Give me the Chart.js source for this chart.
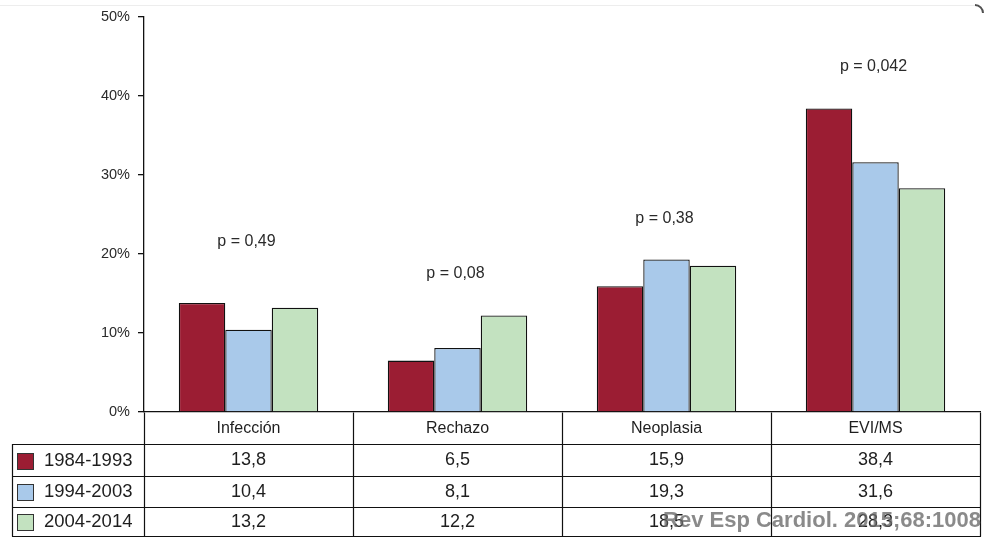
<!DOCTYPE html>
<html>
<head>
<meta charset="utf-8">
<script src="https://cdn.jsdelivr.net/npm/chart.js@4/dist/chart.umd.min.js"></script>
<style>
  html, body { margin: 0; padding: 0; background: #ffffff; }
  #wrap { width: 985px; height: 537px; position: relative; }
</style>
</head>
<body>
<div id="wrap"><canvas id="c" width="985" height="537"></canvas></div>
<script>
// Causes of death by transplant era (%)
const categories = ['Infección', 'Rechazo', 'Neoplasia', 'EVI/MS'];
const periods = ['1984-1993', '1994-2003', '2004-2014'];
const values1984 = [13.8, 6.5, 15.9, 38.4];
const values1994 = [10.4, 8.1, 19.3, 31.6];
const values2004 = [13.2, 12.2, 18.5, 28.3];
const pValues = ['p = 0,49', 'p = 0,08', 'p = 0,38', 'p = 0,042'];
const yTickValues = [0, 10, 20, 30, 40, 50];
const sourceNote = 'Rev Esp Cardiol. 2015;68:1008';

const seriesValues = [values1984, values1994, values2004];
const seriesColors = ['#9b1d33', '#a9c9ea', '#c3e2c0'];
const FONT = '"Liberation Sans", Arial, Helvetica, sans-serif';
const INK = '#1e1e1e';

const fmt = v => v.toFixed(1).replace('.', ',');

// Table rows under the plot area (y edges of each row)
const tableRows = { edges: [444, 476, 507, 536], left: 12 };

// p-value labels above each group, placed at a height in axis units
const pLabelLevels = [21.6, 17.5, 24.4, 43.7];

const tablePlugin = {
  id: 'dataTable',
  afterDraw(chart) {
    const ctx = chart.ctx;
    const x = chart.scales.x;
    const y = chart.scales.y;
    const area = chart.chartArea;
    const right = area.right;
    const n = categories.length;
    const step = (area.right - area.left) / n;

    ctx.save();
    // faint page frame at the top
    ctx.strokeStyle = 'rgba(0,0,0,0.07)';
    ctx.lineWidth = 1;
    ctx.beginPath();
    ctx.moveTo(0, 5.5); ctx.lineTo(976, 5.5);
    ctx.stroke();
    ctx.strokeStyle = 'rgba(50,50,50,0.85)';
    ctx.lineWidth = 2;
    ctx.beginPath();
    ctx.arc(975, 13, 8, -Math.PI / 2, 0);
    ctx.stroke();

    // p-values
    ctx.fillStyle = '#2a2a2a';
    ctx.font = '16px ' + FONT;
    ctx.textAlign = 'center';
    ctx.textBaseline = 'middle';
    const mid = chart.getDatasetMeta(1).data;
    pValues.forEach((p, i) => {
      ctx.fillText(p, mid[i].x - 2, y.getPixelForValue(pLabelLevels[i]));
    });

    // grid of the table
    ctx.strokeStyle = '#111111';
    ctx.lineWidth = 1.2;
    ctx.beginPath();
    const bottomAxis = Math.round(area.bottom) + 0.5;
    const last = tableRows.edges[tableRows.edges.length - 1];
    for (let i = 0; i <= n; i++) {
      const gx = Math.round(area.left + step * i) + 0.5;
      ctx.moveTo(gx, bottomAxis);
      ctx.lineTo(gx, last + 0.5);
    }
    ctx.moveTo(tableRows.left + 0.5, tableRows.edges[0]);
    ctx.lineTo(tableRows.left + 0.5, last + 0.5);
    tableRows.edges.forEach(ry => {
      ctx.moveTo(tableRows.left, ry + 0.5);
      ctx.lineTo(right + 1, ry + 0.5);
    });
    ctx.stroke();

    // header: category names
    ctx.fillStyle = INK;
    ctx.font = '16px ' + FONT;
    const headerMid = (area.bottom + tableRows.edges[0]) / 2 + 1;
    categories.forEach((c, i) => {
      ctx.fillText(c, x.getPixelForValue(i), headerMid);
    });

    // data rows with legend swatches
    periods.forEach((label, r) => {
      const top = tableRows.edges[r];
      const bot = tableRows.edges[r + 1];
      const cy = (top + bot) / 2 + 0.5;
      ctx.lineWidth = 1;
      ctx.fillStyle = seriesColors[r];
      ctx.fillRect(17.5, Math.round(cy - 8) + 0.5, 16, 16);
      ctx.strokeStyle = '#333333';
      ctx.strokeRect(17.5, Math.round(cy - 8) + 0.5, 16, 16);
      ctx.fillStyle = INK;
      ctx.font = '18.5px ' + FONT;
      ctx.textAlign = 'left';
      ctx.fillText(label, 44, cy);
      ctx.textAlign = 'center';
      ctx.font = '18px ' + FONT;
      seriesValues[r].forEach((v, i) => {
        ctx.fillText(fmt(v), x.getPixelForValue(i), cy);
      });
    });

    // source note stamped over the bottom right
    ctx.font = 'bold 22px ' + FONT;
    ctx.textAlign = 'right';
    ctx.textBaseline = 'alphabetic';
    ctx.fillStyle = 'rgba(105,105,105,0.78)';
    ctx.fillText(sourceNote, 981, 527);
    ctx.restore();
  }
};

new Chart(document.getElementById('c'), {
  type: 'bar',
  data: {
    labels: categories,
    datasets: periods.map((p, i) => ({
      label: p,
      data: seriesValues[i],
      backgroundColor: seriesColors[i],
      borderColor: '#111111',
      borderWidth: 1.3,
      borderSkipped: 'bottom',
      categoryPercentage: 0.667,
      barPercentage: 1.0
    }))
  },
  options: {
    responsive: false,
    animation: false,
    devicePixelRatio: 1,
    layout: { padding: { top: 14, right: 5, bottom: 125, left: 0 } },
    plugins: {
      legend: { display: false },
      tooltip: { enabled: false }
    },
    scales: {
      x: {
        grid: { display: false },
        ticks: { display: false },
        border: { display: true, color: '#111111', width: 1.3 },
        afterFit(s) { s.height = 0; }
      },
      y: {
        min: 0,
        max: 50,
        afterBuildTicks(s) { s.ticks = yTickValues.map(v => ({ value: v })); },
        ticks: {
          color: '#2a2a2a',
          font: { family: FONT, size: 14.5 },
          padding: 8,
          callback: v => v + '%'
        },
        grid: {
          drawOnChartArea: false,
          drawTicks: true,
          tickLength: 6,
          lineWidth: 1.3,
          color: '#111111'
        },
        border: { display: true, color: '#111111', width: 1.3 },
        afterFit(s) { s.width = 144; }
      }
    }
  },
  plugins: [tablePlugin]
});
</script>
</body>
</html>
